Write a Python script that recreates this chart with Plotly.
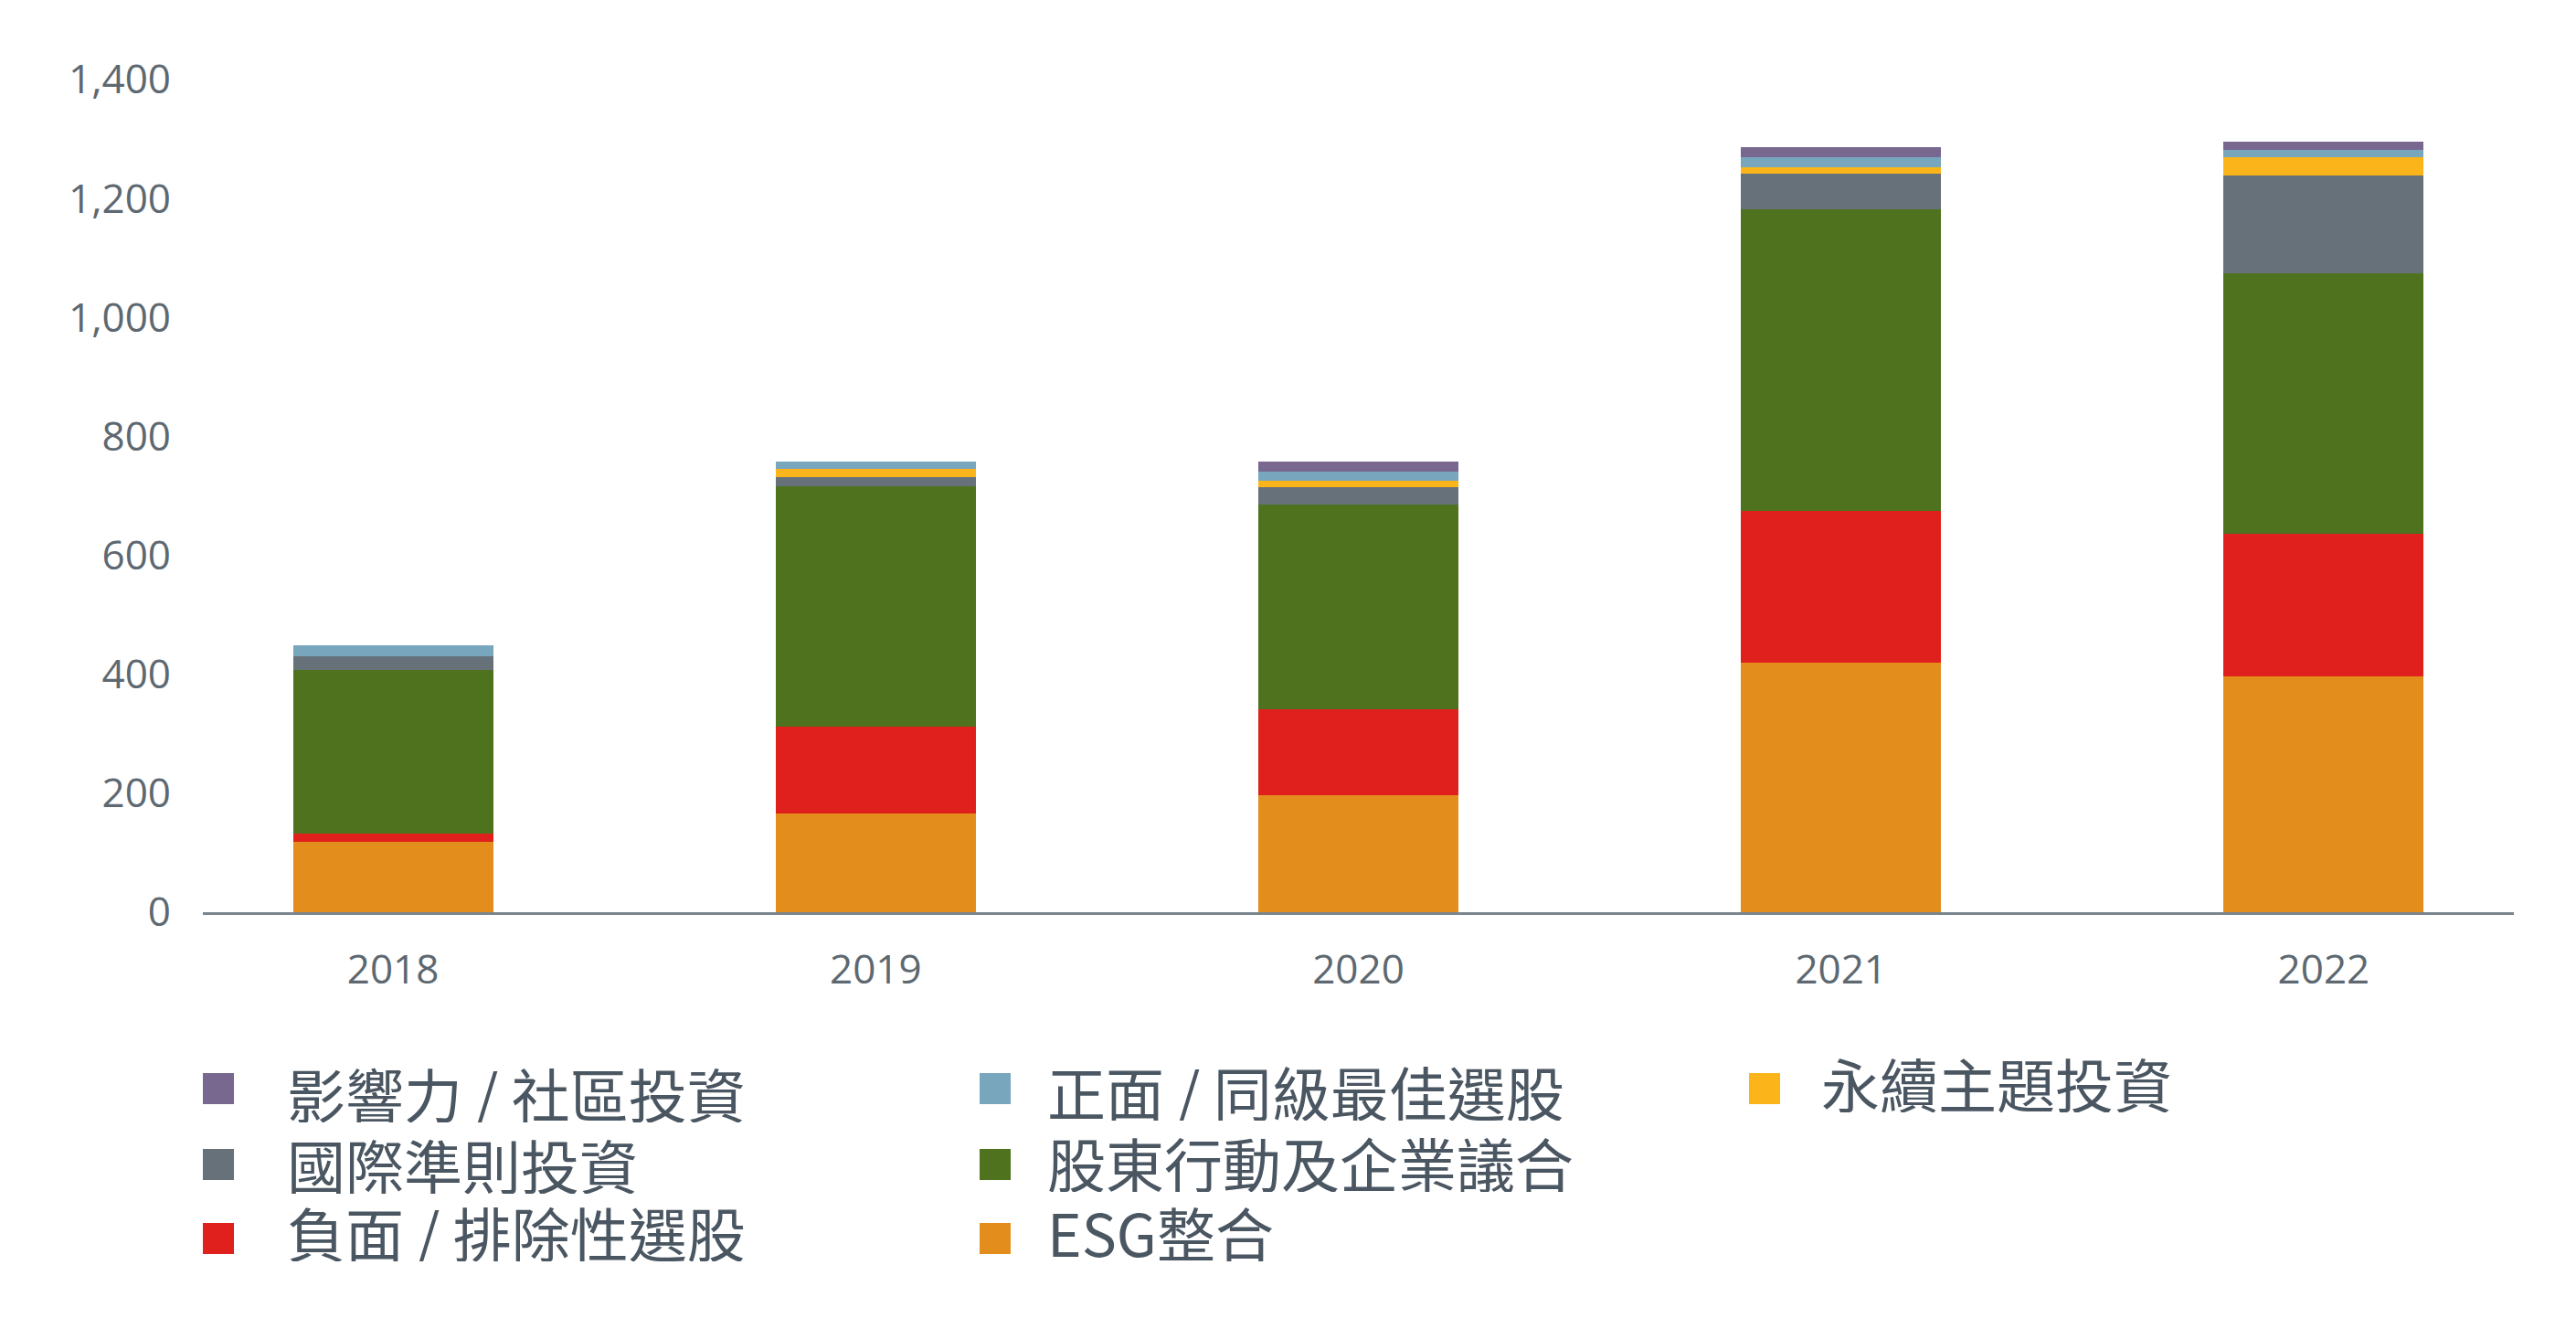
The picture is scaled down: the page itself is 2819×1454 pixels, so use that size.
import plotly.graph_objects as go

# ---------------- data ----------------
years = ["2018", "2019", "2020", "2021", "2022"]

esg_integration = [118, 166, 197, 420, 396]      # ESG整合
negative_screening = [14, 146, 144, 255, 240]    # 負面 / 排除性選股
engagement = [276, 404, 344, 507, 438]           # 股東行動及企業議合
norms_based = [23, 15, 29, 60, 165]              # 國際準則投資
sustainability_themed = [0, 15, 12, 11, 30]      # 永續主題投資
positive_screening = [18, 12, 15, 17, 13]        # 正面 / 同級最佳選股
impact_investing = [0, 0, 17, 17, 13]            # 影響力 / 社區投資

y_tick_vals = [0, 200, 400, 600, 800, 1000, 1200, 1400]
y_tick_text = ["0", "200", "400", "600", "800", "1,000", "1,200", "1,400"]

# stacking order bottom -> top
series = [
    ("ESG整合", esg_integration, "#e38d1c"),
    ("負面 / 排除性選股", negative_screening, "#e0201c"),
    ("股東行動及企業議合", engagement, "#4e721e"),
    ("國際準則投資", norms_based, "#67717a"),
    ("永續主題投資", sustainability_themed, "#fbb51b"),
    ("正面 / 同級最佳選股", positive_screening, "#78a6bd"),
    ("影響力 / 社區投資", impact_investing, "#786890"),
]

# ---------------- layout geometry (pixels) ----------------
W, H = 2819, 1454
L, R, T, B = 222, 68, 87, 456
plot_w = W - L - R
plot_h = H - T - B


def px_x(px):
    return (px - L) / plot_w


def px_y(py):
    return (H - B - py) / plot_h


fig = go.Figure()
for name, vals, color in series:
    fig.add_trace(go.Bar(
        x=years, y=vals, name=name,
        marker=dict(color=color, line=dict(width=0)),
        width=0.415, showlegend=False,
    ))

# ---------------- manual legend ----------------
# (name, marker-left px, text-left px, marker-center-y px, text-center-y px)
legend_layout = [
    ("影響力 / 社區投資", 222, 312, 1191, 1195),
    ("國際準則投資", 222, 312, 1274, 1273),
    ("負面 / 排除性選股", 222, 312, 1355, 1347),
    ("正面 / 同級最佳選股", 1072, 1144, 1191, 1193),
    ("股東行動及企業議合", 1072, 1144, 1274, 1271),
    ("ESG整合", 1072, 1144, 1355, 1347),
    ("永續主題投資", 1914, 1991, 1191, 1184),
]
color_of = {n: c for n, _, c in series}
shapes = []
annotations = []
for name, mx, tx, my, ty in legend_layout:
    shapes.append(dict(
        type="rect", xref="paper", yref="paper",
        x0=px_x(mx), x1=px_x(mx + 34), y0=px_y(my + 17), y1=px_y(my - 17),
        fillcolor=color_of[name], line=dict(width=0),
    ))
    annotations.append(dict(
        text=name, xref="paper", yref="paper",
        x=px_x(tx), y=px_y(ty), xanchor="left", yanchor="middle",
        showarrow=False, height=66, valign="middle",
        font=dict(family="Noto Sans CJK TC", size=64, color="#4a5661"),
    ))

fig.update_layout(
    width=W, height=H,
    margin=dict(l=L, r=R, t=T, b=B, autoexpand=False),
    barmode="stack",
    bargap=0,
    paper_bgcolor="white",
    plot_bgcolor="white",
    shapes=shapes,
    annotations=annotations,
    showlegend=False,
    xaxis=dict(
        type="category",
        range=[-0.394, 4.394],
        showgrid=False,
        showline=True, linecolor="#7b858d", linewidth=3,
        ticks="", ticklabelstandoff=22,
        tickfont=dict(family="Open Sans", size=44, color="#5d6871"),
        zeroline=False,
    ),
    yaxis=dict(
        range=[0, 1400],
        tickvals=y_tick_vals, ticktext=y_tick_text,
        showgrid=False, showline=False, zeroline=False,
        ticks="", ticklabelstandoff=34,
        tickfont=dict(family="Open Sans", size=44, color="#5d6871"),
    ),
)

fig.write_html("out.html")
